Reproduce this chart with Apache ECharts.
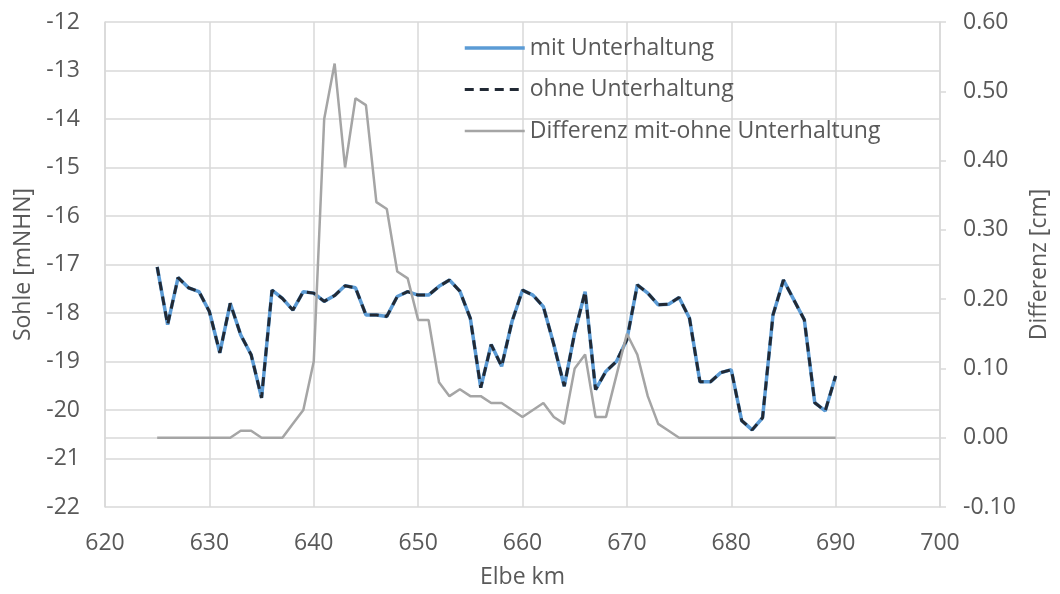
<!DOCTYPE html>
<html>
<head>
<meta charset="utf-8">
<script src="https://cdn.jsdelivr.net/npm/echarts@6/dist/echarts.min.js"></script>
<style>
html,body{margin:0;padding:0;background:#fff;}
#chart{width:1060px;height:594px;}
</style>
</head>
<body>
<div id="chart"></div>
<script>
const km = [625,626,627,628,629,630,631,632,633,634,635,636,637,638,639,640,641,642,643,644,645,646,647,648,649,650,651,652,653,654,655,656,657,658,659,660,661,662,663,664,665,666,667,668,669,670,671,672,673,674,675,676,677,678,679,680,681,682,683,684,685,686,687,688,689,690];
const mitUnterhaltung = [-17.05,-18.24,-17.27,-17.48,-17.56,-17.97,-18.82,-17.80,-18.45,-18.86,-19.75,-17.53,-17.70,-17.94,-17.56,-17.59,-17.76,-17.64,-17.44,-17.48,-18.04,-18.04,-18.07,-17.66,-17.56,-17.63,-17.63,-17.45,-17.32,-17.55,-18.11,-19.54,-18.65,-19.10,-18.17,-17.53,-17.63,-17.87,-18.65,-19.51,-18.41,-17.56,-19.58,-19.20,-19.00,-18.55,-17.42,-17.59,-17.83,-17.82,-17.68,-18.11,-19.42,-19.42,-19.23,-19.17,-20.22,-20.41,-20.16,-18.04,-17.32,-17.73,-18.14,-19.85,-20.02,-19.30];
const ohneUnterhaltung = [-17.05,-18.24,-17.27,-17.48,-17.56,-17.97,-18.82,-17.80,-18.45,-18.86,-19.75,-17.53,-17.70,-17.94,-17.56,-17.59,-17.76,-17.64,-17.44,-17.48,-18.04,-18.04,-18.07,-17.66,-17.56,-17.63,-17.63,-17.45,-17.32,-17.55,-18.11,-19.54,-18.65,-19.10,-18.17,-17.53,-17.63,-17.87,-18.65,-19.51,-18.41,-17.56,-19.58,-19.20,-19.00,-18.55,-17.42,-17.59,-17.83,-17.82,-17.68,-18.11,-19.42,-19.42,-19.23,-19.17,-20.22,-20.41,-20.16,-18.04,-17.32,-17.73,-18.14,-19.85,-20.02,-19.30];
const differenz = [0,0,0,0,0,0,0,0,0.01,0.01,0,0,0,0.02,0.04,0.11,0.46,0.54,0.39,0.49,0.48,0.34,0.33,0.24,0.23,0.17,0.17,0.08,0.06,0.07,0.06,0.06,0.05,0.05,0.04,0.03,0.04,0.05,0.03,0.02,0.10,0.12,0.03,0.03,0.09,0.15,0.12,0.06,0.02,0.01,0,0,0,0,0,0,0,0,0,0,0,0,0,0,0,0];
const seriesNames = ['mit Unterhaltung','ohne Unterhaltung','Differenz mit-ohne Unterhaltung'];
const xName = 'Elbe km';
const yLeftName = 'Sohle [mNHN]';
const yRightName = 'Differenz [cm]';

const pair = arr => arr.map((v,i)=>[km[i], v]);
const FONT = '"Open Sans", sans-serif';
const TXT = '#595959';
const GRID = '#D9D9D9';
const FS = 23;

const chart = echarts.init(document.getElementById('chart'), null, {renderer:'canvas'});
chart.setOption({
  animation:false,
  backgroundColor:'#fff',
  textStyle:{fontFamily:FONT},
  grid:{left:105, right:120, top:22, bottom:84, containLabel:false},
  legend:{
    orient:'vertical', left:458, top:31,
    itemWidth:60, itemHeight:14, itemGap:17.5,
    itemStyle:{opacity:0},
    lineStyle:{width:'inherit'},
    textStyle:{color:TXT, fontSize:FS, fontFamily:FONT, lineHeight:24},
    data:seriesNames
  },
  xAxis:{
    type:'value', min:620, max:700, interval:10,
    name:xName, nameLocation:'middle', nameGap:59,
    nameTextStyle:{color:TXT, fontSize:FS, fontFamily:FONT},
    axisLine:{show:true, lineStyle:{color:GRID, width:1.5}},
    axisTick:{show:false},
    axisLabel:{color:TXT, fontSize:FS, margin:25, fontFamily:FONT},
    splitLine:{show:true, lineStyle:{color:GRID, width:1.5}}
  },
  yAxis:[{
    type:'value', min:-22, max:-12, interval:1,
    name:yLeftName, nameLocation:'middle', nameGap:65,
    nameTextStyle:{color:TXT, fontSize:FS, fontFamily:FONT},
    axisLine:{show:true, lineStyle:{color:GRID, width:1.5}},
    axisTick:{show:false},
    axisLabel:{color:TXT, fontSize:FS, margin:25, fontFamily:FONT},
    splitLine:{show:true, lineStyle:{color:GRID, width:1.5}}
  },{
    type:'value', min:-0.1, max:0.6, interval:0.1, position:'right',
    name:yRightName, nameLocation:'middle', nameGap:88, nameRotate:90,
    nameTextStyle:{color:TXT, fontSize:FS, fontFamily:FONT},
    axisLine:{show:true, lineStyle:{color:GRID, width:1.5}},
    axisTick:{show:true, inside:false, length:6, lineStyle:{color:GRID, width:1.5}},
    axisLabel:{color:TXT, fontSize:FS, margin:23, fontFamily:FONT,
      formatter:v=>(Math.round(v*100)/100).toFixed(2)},
    splitLine:{show:false}
  }],
  series:[{
    name:seriesNames[0], type:'line', yAxisIndex:0, data:pair(mitUnterhaltung),
    symbol:'none', color:'#5B9BD5',
    lineStyle:{color:'#5B9BD5', width:3.5}
  },{
    name:seriesNames[1], type:'line', yAxisIndex:0, data:pair(ohneUnterhaltung),
    symbol:'none', color:'#222A35',
    lineStyle:{color:'#222A35', width:3, type:[9,6]}
  },{
    name:seriesNames[2], type:'line', yAxisIndex:1, data:pair(differenz),
    symbol:'none', color:'#A5A5A5',
    lineStyle:{color:'#A5A5A5', width:2.5}
  }]
});
</script>
</body>
</html>
